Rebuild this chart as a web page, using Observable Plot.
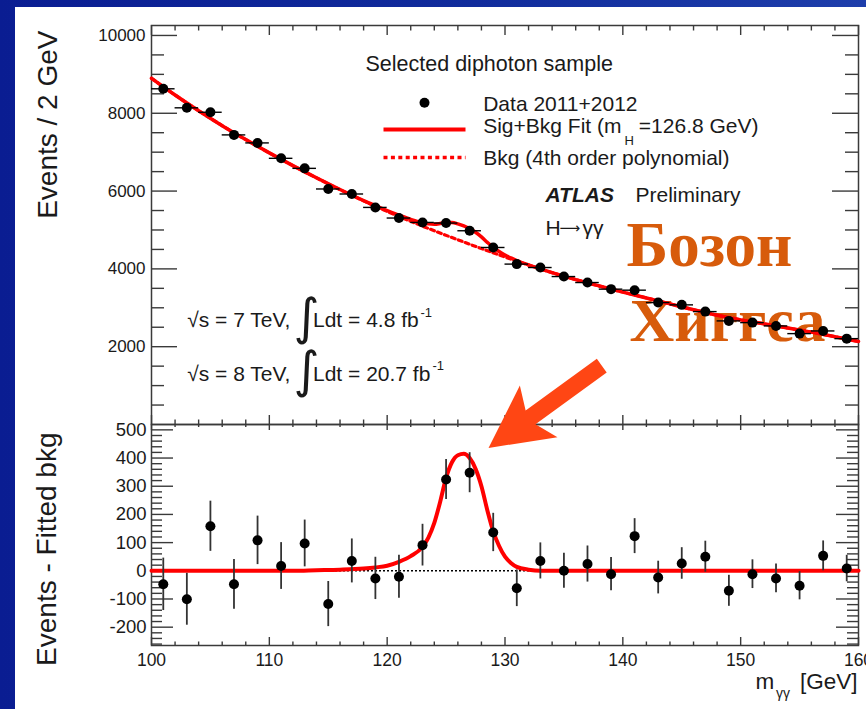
<!DOCTYPE html>
<html><head><meta charset="utf-8">
<script src="https://cdn.jsdelivr.net/npm/d3@7"></script>
<script src="https://cdn.jsdelivr.net/npm/@observablehq/plot@0.6"></script>
<style>
html,body{margin:0;padding:0;background:#0b1f97;}
#wrap{position:relative;width:866px;height:709px;overflow:hidden;background:linear-gradient(90deg,#0a1d92 0%,#112c9c 55%,#1e3eab 100%);}
#paper{position:absolute;left:15px;top:7px;right:0;bottom:0;background:#fff;}
#wrap svg{position:absolute;left:0;top:0;}
</style></head><body><div id="wrap"><div id="paper"></div></div>
<script>
// ---- data ----
const massBins = [101,103,105,107,109,111,113,115,117,119,121,123,125,127,129,131,133,135,137,139,141,143,145,147,149,151,153,155,157,159];
const events = [8629,8140,8026,7444,7238,6842,6584,6054,5925,5580,5307,5194,5178,4980,4550,4123,4035,3803,3649,3479,3453,3134,3075,2902,2663,2619,2534,2336,2405,2207];
const eventErr = [93,92,89,88,86,83,83,80,78,75,76,74,71,71,68,65,64,62,64,59,62,58,56,55,55,51,51,50,53,47];
const residual = [-48,-101,158,-48,108,17,97,-118,35,-27,-21,91,324,348,136,-62,35,0,24,-12,123,-24,26,50,-71,-12,-27,-53,53,8];
const bkgMass = [100,102,104,106,108,110,112,114,116,118,120,122,124,126,128,130,132,134,136,138,140,142,144,146,148,150,152,154,156,158,160];
const bkgFit = [8900,8470,8065,7682,7323,6982,6655,6339,6037,5749,5477,5221,4979,4748,4522,4305,4098,3903,3725,3561,3404,3253,3100,2949,2809,2690,2585,2480,2374,2257,2135];
const sigMass = [100,112,114,116,118,119,120,121,122,123,123.5,124,124.5,125,125.5,126,126.5,127,127.5,128,128.5,129,129.5,130,130.5,131,132,133,160];
const sigFit = [0,0,2,4,8,12,18,32,52,85,118,170,245,330,385,410,415,400,362,300,215,140,88,50,28,14,4,0,0];
const xMajor = [100,110,120,130,140,150,160];
const topYMajor = [2000,4000,6000,8000,10000];
const botYMajor = [-200,-100,0,100,200,300,400,500];
const arrowTip = {m: 128.6, v: 436};

// ---- layout ----
const font = "'Liberation Sans', Arial, Helvetica, sans-serif";
const W = 866, L = 151, R = 8, FW = W - L - R;
const topH = 424, topMT = 25, topFH = topH - topMT;
const botH = 709, botMT = 424, botMB = 64, botFH = botH - botMT - botMB;
const ink = "#1a1a1a", axisInk = "#3a3a3a";

const data = massBins.map((m, i) => ({m, n: events[i], e: eventErr[i], r: residual[i]}));
const bkgPts = bkgMass.map((m, i) => ({m, v: bkgFit[i]}));
const sigPts = sigMass.map((m, i) => ({m, v: sigFit[i]}));
const bkgAt = d3.scaleLinear().domain(bkgMass).range(bkgFit);
const sigAt = d3.scaleLinear().domain(sigMass).range(sigFit);
const fitMass = Array.from(new Set([...bkgMass, ...sigMass])).sort((a, b) => a - b);
const fitPts = fitMass.map(m => ({m, v: bkgAt(m) + sigAt(m)}));

const xMinor = d3.range(102, 160, 2).filter(d => d % 10 !== 0);
const topYMinor = d3.range(500, 10001, 500).filter(d => d % 2000 !== 0);
const botYMinor = d3.range(-260, 501, 20).filter(d => d % 100 !== 0);

const yT = (vals, len, side) => Plot.tickY(vals, {y: d => d, stroke: axisInk, strokeWidth: 1.4,
  ...(side === "left" ? {insetRight: FW - len} : {insetLeft: FW - len})});
const xT = (vals, len, side, FH) => Plot.tickX(vals, {x: d => d, stroke: axisInk, strokeWidth: 1.4,
  ...(side === "top" ? {insetBottom: FH - len} : {insetTop: FH - len})});

const T = (text, X, Y, o = {}) => Plot.text([text], {text: d => d, frameAnchor: "top-left",
  dx: X - L, dy: Y - topMT, lineAnchor: "bottom", textAnchor: "start", fontSize: 21,
  fill: ink, fontFamily: font, ...o});
const hline = half => ({draw(ctx) { ctx.moveTo(-half, 0); ctx.lineTo(half, 0); }});
const arrowSym = {draw(ctx) {
  ctx.moveTo(0, 0); ctx.lineTo(32, 62); ctx.lineTo(8.4, 52); ctx.lineTo(8.4, 140);
  ctx.lineTo(-8.4, 140); ctx.lineTo(-8.4, 52); ctx.lineTo(-32, 62); ctx.closePath(); }};

const orange = "#d75b0b";
const serif = "'Liberation Serif', 'Times New Roman', serif";
const dejavu = "'DejaVu Sans', sans-serif";

const topPlot = Plot.plot({
  width: W, height: topH, marginLeft: L, marginRight: R, marginTop: topMT, marginBottom: 0,
  style: {background: "transparent", overflow: "visible", fontFamily: font},
  x: {domain: [100, 160], axis: null},
  y: {domain: [0, 10256], axis: null},
  marks: [
    T("Бозон", 626, 265, {fontFamily: serif, fontWeight: "bold", fontSize: 63, fill: orange}),
    T("Хиггса", 629, 340, {fontFamily: serif, fontWeight: "bold", fontSize: 62, fill: orange}),
    Plot.frame({stroke: axisInk, strokeWidth: 1.5}),
    yT(topYMajor, 26, "left"), yT(topYMinor, 13, "left"),
    yT(topYMajor, 26, "right"), yT(topYMinor, 13, "right"),
    xT(xMajor, 10, "top", topFH), xT(xMinor, 5.5, "top", topFH),
    xT(xMajor, 9, "bottom", topFH), xT(xMinor, 4.5, "bottom", topFH),
    Plot.text(topYMajor, {y: d => d, text: d => String(d), frameAnchor: "left", dx: -6,
      textAnchor: "end", fontSize: 17, fill: ink, fontFamily: font}),
    Plot.text(["Events / 2 GeV"], {text: d => d, frameAnchor: "top-left", dx: 56 - L, dy: 30 - topMT,
      rotate: -90, textAnchor: "end", lineAnchor: "bottom", fontSize: 28, fill: ink, fontFamily: font}),
    Plot.line(bkgPts, {x: "m", y: "v", stroke: "#ff0000", strokeWidth: 3.2, strokeDasharray: "4,3.4", curve: "monotone-x"}),
    Plot.line(fitPts, {x: "m", y: "v", stroke: "#ff0000", strokeWidth: 3.5, curve: "monotone-x"}),
    Plot.ruleY(data, {y: "n", x1: d => d.m - 1, x2: d => d.m + 1, stroke: "#000", strokeWidth: 1.4}),
    Plot.ruleX(data, {x: "m", y1: d => d.n - d.e, y2: d => d.n + d.e, stroke: "#000", strokeWidth: 1.4}),
    Plot.dot(data, {x: "m", y: "n", r: 5, fill: "#000", stroke: "none"}),
    // legend and labels
    T("Selected diphoton sample", 365, 70.7, {fontSize: 21.5}),
    Plot.dot([0], {frameAnchor: "top-left", dx: 424 - L, dy: 102.3 - topMT, r: 5, fill: "#000", stroke: "none"}),
    T("Data 2011+2012", 482.7, 110),
    Plot.dot([0], {frameAnchor: "top-left", dx: 424 - L, dy: 129 - topMT, symbol: hline(41), fill: "none", stroke: "#ff0000", strokeWidth: 4}),
    T("Sig+Bkg Fit (m", 482.7, 132.7),
    T("H", 624, 144.5, {fontSize: 13}),
    T("=126.8 GeV)", 758, 132.7, {textAnchor: "end"}),
    Plot.dot([0], {frameAnchor: "top-left", dx: 424 - L, dy: 157 - topMT, symbol: hline(41), fill: "none", stroke: "#ff0000", strokeWidth: 3.5, strokeDasharray: "4,3.4"}),
    T("Bkg (4th order polynomial)", 482.7, 164),
    T("ATLAS", 545, 201, {fontWeight: "bold", fontStyle: "italic"}),
    T("Preliminary", 635, 201),
    T("H", 545, 234),
    T("\u27F6", 559, 232, {fontFamily: dejavu, fontSize: 14.5}),
    T("\u03B3\u03B3", 582, 234),
    T("\u221As = 7 TeV,", 186.7, 326.7),
    T("\u222B", 293, 333, {fontSize: 50, fontFamily: dejavu, fontWeight: "normal"}),
    T("Ldt = 4.8 fb", 312.5, 326.7),
    T("-1", 420, 316, {fontSize: 13}),
    T("\u221As = 8 TeV,", 186.7, 380),
    T("\u222B", 293, 386, {fontSize: 50, fontFamily: dejavu, fontWeight: "normal"}),
    T("Ldt = 20.7 fb", 312.5, 380),
    T("-1", 432, 369, {fontSize: 13})
  ]
});

const B = (text, X, Y, o = {}) => Plot.text([text], {text: d => d, frameAnchor: "bottom-left",
  dx: X - L, dy: Y - (botH - botMB), lineAnchor: "bottom", textAnchor: "start", fontSize: 22.5,
  fill: ink, fontFamily: font, ...o});

const botPlot = Plot.plot({
  width: W, height: botH, marginLeft: L, marginRight: R, marginTop: botMT, marginBottom: botMB,
  style: {background: "transparent", overflow: "visible", fontFamily: font},
  x: {domain: [100, 160], axis: null},
  y: {domain: [-265, 519], axis: null},
  marks: [
    Plot.frame({stroke: axisInk, strokeWidth: 1.5}),
    yT(botYMajor, 22, "left"), yT(botYMinor, 11, "left"),
    yT(botYMajor, 22, "right"), yT(botYMinor, 11, "right"),
    xT(xMajor, 6, "top", botFH), xT(xMinor, 3, "top", botFH),
    xT(xMajor, 8, "bottom", botFH), xT(xMinor, 3.5, "bottom", botFH),
    Plot.text(botYMajor, {y: d => d, text: d => String(d), frameAnchor: "left", dx: -5,
      textAnchor: "end", fontSize: 18.5, fill: ink, fontFamily: font}),
    Plot.text(xMajor, {x: d => d, text: d => String(d), frameAnchor: "bottom", dy: 20,
      lineAnchor: "bottom", fontSize: 17.5, fill: ink, fontFamily: font}),
    Plot.text(["Events - Fitted bkg"], {text: d => d, frameAnchor: "top-left", dx: 55 - L, dy: 432 - botMT,
      rotate: -90, textAnchor: "end", lineAnchor: "bottom", fontSize: 28, fill: ink, fontFamily: font}),
    B("m", 755, 688.3),
    B("\u03B3\u03B3", 775.5, 697, {fontSize: 14}),
    B("[GeV]", 857, 688.3, {textAnchor: "end"}),
    Plot.ruleY([0], {stroke: "#000", strokeWidth: 1.6, strokeDasharray: "2,2"}),
    Plot.line(sigPts, {x: "m", y: "v", stroke: "#ff0000", strokeWidth: 4, curve: "monotone-x"}),
    Plot.ruleX(data, {x: "m", y1: d => d.r - d.e, y2: d => d.r + d.e, stroke: "#333", strokeWidth: 1.8}),
    Plot.dot(data, {x: "m", y: "r", r: 5, fill: "#000", stroke: "none"}),
    Plot.dot([arrowTip], {x: "m", y: "v", symbol: arrowSym, rotate: 234, fill: "#ff4614", stroke: "none"})
  ]
});

document.getElementById("wrap").append(topPlot, botPlot);
</script>
</body></html>
